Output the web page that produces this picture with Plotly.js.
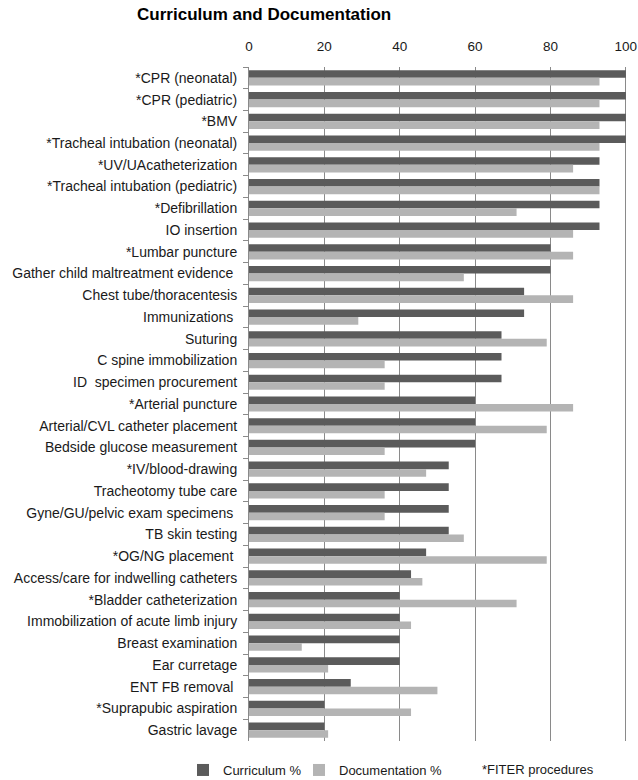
<!DOCTYPE html>
<html>
<head>
<meta charset="utf-8">
<script src="https://cdn.plot.ly/plotly-3.0.1.min.js"></script>
<style>html,body{margin:0;padding:0;background:#fff;}#chart{width:638px;height:780px;}</style>
</head>
<body>
<div id="chart"></div>
<script>
var categories = [
  "*CPR (neonatal)", "*CPR (pediatric)", "*BMV", "*Tracheal intubation (neonatal)",
  "*UV/UAcatheterization", "*Tracheal intubation (pediatric)", "*Defibrillation", "IO insertion",
  "*Lumbar puncture", "Gather child maltreatment evidence ", "Chest tube/thoracentesis", "Immunizations ",
  "Suturing", "C spine immobilization", "ID  specimen procurement", "*Arterial puncture",
  "Arterial/CVL catheter placement", "Bedside glucose measurement", "*IV/blood-drawing", "Tracheotomy tube care",
  "Gyne/GU/pelvic exam specimens ", "TB skin testing", "*OG/NG placement ", "Access/care for indwelling catheters",
  "*Bladder catheterization", "Immobilization of acute limb injury", "Breast examination", "Ear curretage",
  "ENT FB removal ", "*Suprapubic aspiration", "Gastric lavage"
];
var curriculum = [100, 100, 100, 100, 93, 93, 93, 93, 80, 80, 73, 73, 67, 67, 67, 60, 60, 60, 53, 53, 53, 53, 47, 43, 40, 40, 40, 40, 27, 20, 20];
var documentation = [93, 93, 93, 93, 86, 93, 71, 86, 86, 57, 86, 29, 79, 36, 36, 86, 79, 36, 47, 36, 36, 57, 79, 46, 71, 43, 14, 21, 50, 43, 21];
var xTicks = [0, 20, 40, 60, 80, 100];
var seriesNames = ["Curriculum %", "Documentation %"];
var noteText = "*FITER procedures";
var titleText = "Curriculum and Documentation";

var font = "Liberation Sans, Arial, sans-serif";
var data = [
  {type: "bar", orientation: "h", y: categories, x: curriculum, name: seriesNames[0],
   marker: {color: "#5b5b5b"}, hoverinfo: "x+y", legend: "legend"},
  {type: "bar", orientation: "h", y: categories, x: documentation, name: seriesNames[1],
   marker: {color: "#b4b4b4"}, hoverinfo: "x+y", legend: "legend2"}
];
function legendAt(px) {
  return {orientation: "h", x: px / 638, xref: "container", xanchor: "left",
          y: 0.0128, yref: "container", yanchor: "middle",
          font: {family: font, size: 13, color: "#1a1a1a"}, itemwidth: 30,
          bgcolor: "rgba(0,0,0,0)"};
}
var layout = {
  width: 638, height: 780,
  margin: {l: 249, r: 11, t: 67, b: 39},
  paper_bgcolor: "#fff", plot_bgcolor: "#fff",
  font: {family: font, size: 14, color: "#1a1a1a"},
  title: {text: "<b>" + titleText + "</b>", x: 0.414, xanchor: "center", xref: "container",
          y: 0.982, yanchor: "middle", yref: "container",
          font: {family: font, size: 17, color: "#000"}},
  barmode: "group", bargap: 0.3, bargroupgap: 0,
  xaxis: {side: "top", range: [0, 100.3], tickvals: xTicks, ticktext: xTicks.map(String),
          showgrid: true, gridcolor: "#8a8a8a", gridwidth: 1, zeroline: false,
          ticks: "outside", ticklen: 10, tickcolor: "rgba(0,0,0,0)", showline: false,
          tickfont: {family: font, size: 13.5, color: "#1a1a1a"}, fixedrange: true},
  yaxis: {type: "category", autorange: "reversed", showgrid: false, zeroline: false,
          showline: true, linecolor: "#8a8a8a", linewidth: 1,
          ticks: "outside", ticklen: 5, tickcolor: "#8a8a8a", tickson: "boundaries",
          ticklabelstandoff: 8,
          tickfont: {family: font, size: 14, color: "#1a1a1a"}, fixedrange: true},
  showlegend: true,
  legend: legendAt(183),
  legend2: legendAt(299),
  annotations: [{text: noteText, xref: "paper", yref: "paper", x: 0.611, y: -0.043,
                 xanchor: "left", yanchor: "middle", showarrow: false,
                 font: {family: font, size: 13, color: "#1a1a1a"}}]
};
Plotly.newPlot("chart", data, layout, {displayModeBar: false, staticPlot: true});
</script>
</body>
</html>
